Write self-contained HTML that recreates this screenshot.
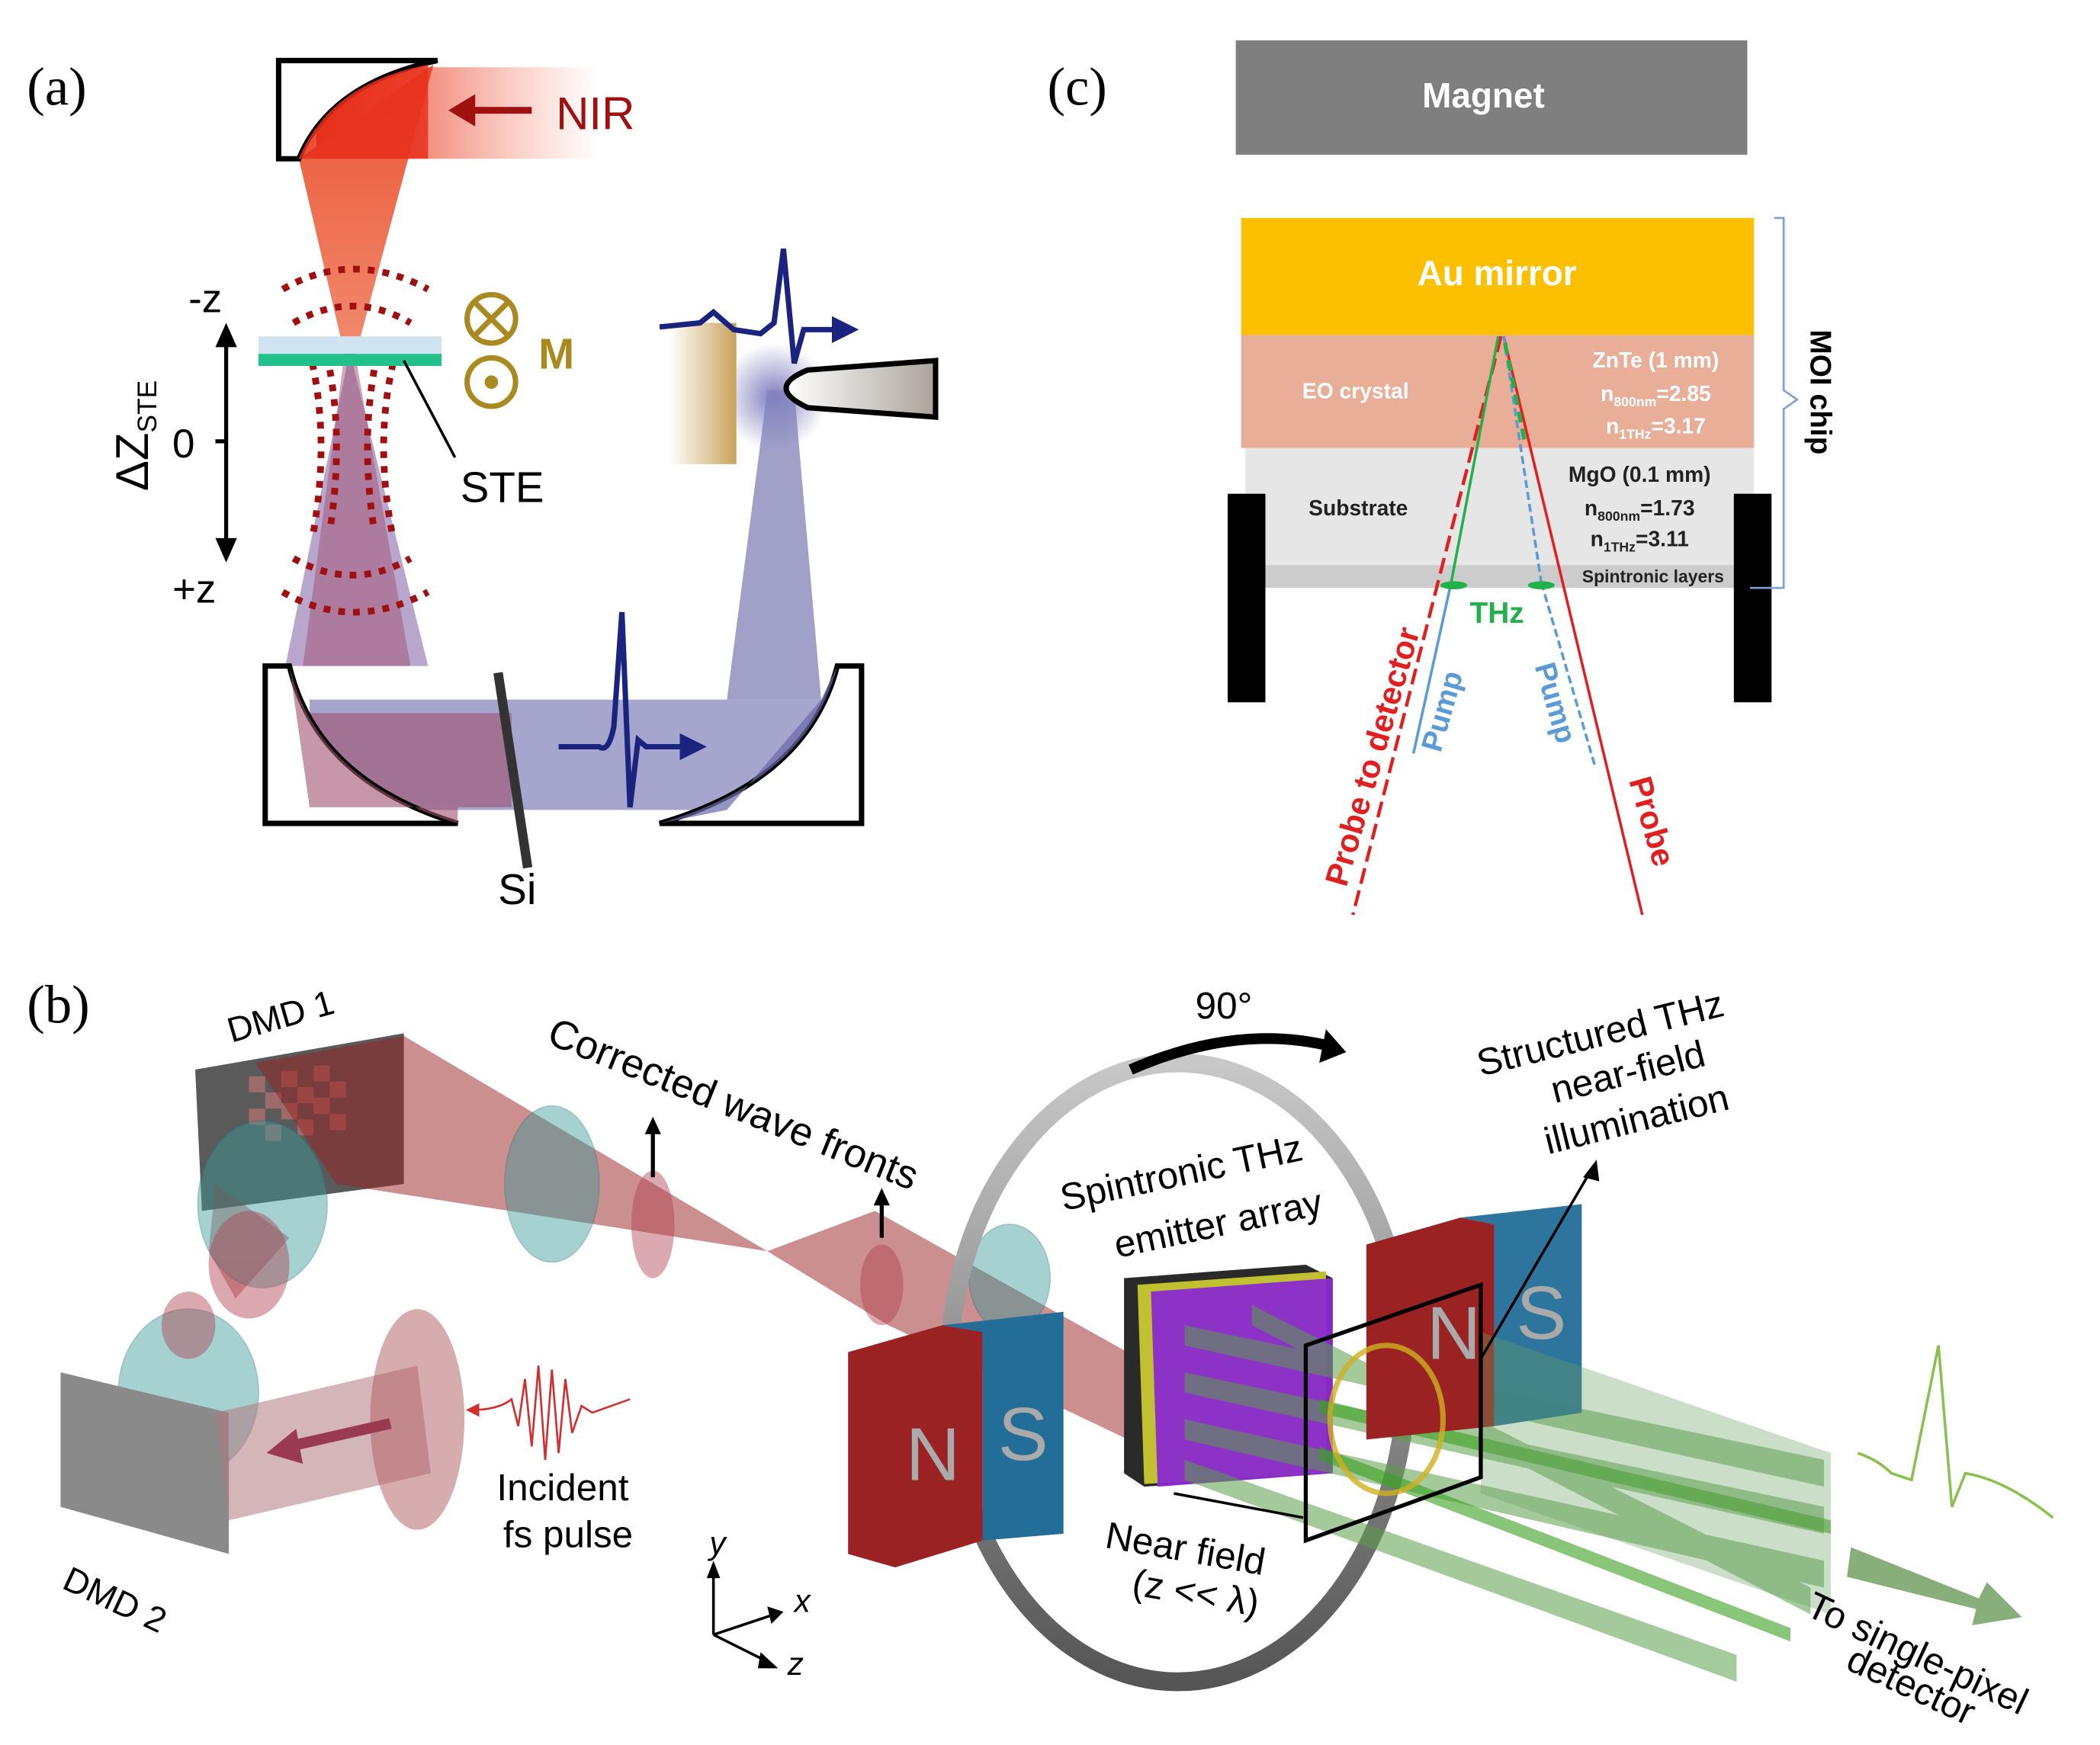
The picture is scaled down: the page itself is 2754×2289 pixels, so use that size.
<!DOCTYPE html>
<html><head><meta charset="utf-8"><style>
html,body{margin:0;padding:0;background:#fff}
svg{display:block}
text{font-family:"Liberation Sans",sans-serif}
.ser{font-family:"Liberation Serif",serif}
</style></head><body>
<svg width="2754" height="2289" viewBox="0 0 1560 1297" preserveAspectRatio="none" xmlns="http://www.w3.org/2000/svg">
<defs>
<linearGradient id="nir" x1="0" x2="1" y1="0" y2="0"><stop offset="0" stop-color="#e8301c"/><stop offset="1" stop-color="#f07050" stop-opacity="0"/></linearGradient>
<linearGradient id="cone" x1="0" x2="0" y1="0" y2="1"><stop offset="0" stop-color="#e8401c"/><stop offset="1" stop-color="#f08060"/></linearGradient>
<linearGradient id="det" x1="0" x2="1"><stop offset="0" stop-color="#fff"/><stop offset="1" stop-color="#aaa39a"/></linearGradient>
<linearGradient id="gold" x1="0" x2="1"><stop offset="0" stop-color="#fff"/><stop offset="1" stop-color="#c9a35c"/></linearGradient>
<radialGradient id="glow"><stop offset="0" stop-color="#8080c0"/><stop offset="1" stop-color="#8080c0" stop-opacity="0"/></radialGradient>
<linearGradient id="ring" x1="0" x2="0" y1="0" y2="1"><stop offset="0" stop-color="#c8c8c8"/><stop offset="1" stop-color="#555"/></linearGradient>
</defs>

<!-- ===== Panel (a) ===== -->
<text x="20" y="78" class="ser" font-size="40">(a)</text>
<rect x="235" y="50" width="210" height="68" fill="url(#nir)"/>
<polygon points="222,118 322,48 262,272 258,272" fill="url(#cone)" opacity="0.9"/>
<path d="M325,45 L207,45 L207,118 L222,118 Q245,62 325,45 Z" fill="#fff" stroke="#000" stroke-width="4"/>
<path d="M222,118 Q245,62 318,48 L318,118 Z" fill="#e8301c" opacity="0.85"/>
<line x1="350" y1="82" x2="395" y2="82" stroke="#a01010" stroke-width="5"/>
<polygon points="353,70 333,82 353,94" fill="#a01010"/>
<text x="413" y="96" font-size="34" fill="#a01010">NIR</text>
<!-- lower beam -->
<polygon points="258,270 262,270 318,495 212,495" fill="#a890c0" opacity="0.8"/>
<polygon points="255,270 265,270 305,495 225,495" fill="#a05070" opacity="0.5"/>
<rect x="230" y="520" width="380" height="82" fill="#8f8fc0" opacity="0.8"/>
<rect x="230" y="530" width="150" height="70" fill="#a05070" opacity="0.6"/>
<polygon points="540,520 610,520 590,290 570,290" fill="#8f8fc0" opacity="0.85"/>
<circle cx="575" cy="295" r="40" fill="url(#glow)"/>
<!-- red dotted arcs -->
<g fill="none" stroke="#a01010" stroke-width="5" stroke-dasharray="5,6">
<path d="M210,215 Q262,185 318,215"/><path d="M218,240 Q262,215 305,240"/>
<path d="M232,270 Q245,330 232,400 M292,270 Q278,330 292,400"/>
<path d="M245,275 Q255,330 245,395 M278,275 Q268,330 278,395"/>
<path d="M210,440 Q262,470 318,440"/><path d="M218,415 Q262,440 305,415"/>
</g>
<rect x="192" y="250" width="136" height="13" fill="#cfe4f0"/>
<rect x="192" y="263" width="136" height="9" fill="#22c08a"/>
<line x1="168" y1="255" x2="168" y2="405" stroke="#000" stroke-width="3"/>
<polygon points="160,258 176,258 168,240" fill="#000"/><polygon points="160,400 176,400 168,418" fill="#000"/>
<line x1="160" y1="328" x2="168" y2="328" stroke="#000" stroke-width="3"/>
<text x="140" y="232" font-size="30">-z</text>
<text x="128" y="448" font-size="30">+z</text>
<text x="128" y="340" font-size="30">0</text>
<text transform="translate(110,365) rotate(-90)" font-size="34">ΔZ<tspan font-size="20" dy="6">STE</tspan></text>
<circle cx="365" cy="237" r="18" fill="none" stroke="#a88a20" stroke-width="4"/>
<path d="M353,225 L377,249 M377,225 L353,249" stroke="#a88a20" stroke-width="4"/>
<circle cx="365" cy="284" r="18" fill="none" stroke="#a88a20" stroke-width="4"/><circle cx="365" cy="284" r="5" fill="#a88a20"/>
<text x="400" y="274" font-size="32" font-weight="bold" fill="#a88a20">M</text>
<line x1="300" y1="268" x2="338" y2="340" stroke="#000" stroke-width="2"/>
<text x="342" y="373" font-size="32">STE</text>
<!-- bottom mirrors -->
<path d="M197,495 L215,495 Q235,580 340,612 L197,612 Z" fill="#fff" stroke="#000" stroke-width="4"/>
<path d="M640,495 L622,495 Q600,580 490,612 L640,612 Z" fill="#fff" stroke="#000" stroke-width="4"/>
<path d="M215,495 Q235,580 340,612 L340,600 L230,600 Z" fill="#a05070" opacity="0.6"/>
<path d="M622,495 Q600,580 490,612 L540,602 L610,520 Z" fill="#6a6aa8" opacity="0.7"/>
<line x1="370" y1="500" x2="392" y2="645" stroke="#333" stroke-width="7"/>
<text x="370" y="672" font-size="32">Si</text>
<path d="M415,555 L445,555 Q452,560 456,540 L462,455 L468,600 L474,550 L480,555 L510,555" fill="none" stroke="#1a237e" stroke-width="4"/>
<polygon points="505,545 525,555 505,565" fill="#1a237e"/>
<!-- detector -->
<rect x="497" y="240" width="50" height="105" fill="url(#gold)"/>
<path d="M695,268 L600,275 Q568,288 600,303 L695,310 Z" fill="url(#det)" stroke="#000" stroke-width="4"/>
<path d="M490,243 L520,240 L530,232 L545,245 L565,248 L575,240 L582,185 L590,270 L597,245 L625,245" fill="none" stroke="#1a237e" stroke-width="4"/>
<polygon points="618,235 638,245 618,255" fill="#1a237e"/>

<!-- ===== Panel (c) ===== -->
<text x="778" y="78" class="ser" font-size="40">(c)</text>
<rect x="918" y="30" width="380" height="85" fill="#7f7f7f"/>
<text x="1102" y="80" font-size="26" font-weight="bold" fill="#fff" text-anchor="middle">Magnet</text>
<rect x="922" y="162" width="381" height="87" fill="#fcc000"/>
<text x="1112" y="212" font-size="26" font-weight="bold" fill="#fff" text-anchor="middle">Au mirror</text>
<rect x="922" y="249" width="381" height="84" fill="#e9ae98"/>
<rect x="925" y="333" width="378" height="87" fill="#e6e6e6"/>
<rect x="925" y="420" width="378" height="17" fill="#cccccc"/>
<rect x="912" y="367" width="28" height="155" fill="#000"/>
<rect x="1288" y="367" width="28" height="155" fill="#000"/>
<g font-weight="bold" font-size="16">
<text x="1007" y="296" fill="#fff" text-anchor="middle">EO crystal</text>
<text x="1230" y="273" fill="#fff" text-anchor="middle">ZnTe (1 mm)</text>
<text x="1230" y="298" fill="#fff" text-anchor="middle">n<tspan font-size="10" dy="4">800nm</tspan><tspan dy="-4">=2.85</tspan></text>
<text x="1230" y="322" fill="#fff" text-anchor="middle">n<tspan font-size="10" dy="4">1THz</tspan><tspan dy="-4">=3.17</tspan></text>
<text x="1009" y="383" fill="#222" text-anchor="middle">Substrate</text>
<text x="1218" y="358" fill="#222" text-anchor="middle">MgO (0.1 mm)</text>
<text x="1218" y="383" fill="#222" text-anchor="middle">n<tspan font-size="10" dy="4">800nm</tspan><tspan dy="-4">=1.73</tspan></text>
<text x="1218" y="406" fill="#222" text-anchor="middle">n<tspan font-size="10" dy="4">1THz</tspan><tspan dy="-4">=3.11</tspan></text>
<text x="1228" y="433" fill="#222" font-size="13" text-anchor="middle">Spintronic layers</text>
</g>
<path d="M1318,162 L1325,162 L1325,290 L1335,297 L1325,304 L1325,437 L1300,437" fill="none" stroke="#7fa0d0" stroke-width="1.5"/>
<text transform="translate(1345,245) rotate(90)" font-size="22" font-weight="bold">MOI chip</text>
<!-- beams -->
<line x1="1115" y1="250" x2="1005" y2="680" stroke="#e02020" stroke-width="2.5" stroke-dasharray="12,5"/>
<line x1="1113" y1="250" x2="1078" y2="433" stroke="#22b04a" stroke-width="2"/>
<line x1="1117" y1="250" x2="1220" y2="680" stroke="#e02020" stroke-width="2"/>
<line x1="1117" y1="250" x2="1145" y2="433" stroke="#5b9bd5" stroke-width="2" stroke-dasharray="6,3"/>
<line x1="1118" y1="255" x2="1133" y2="330" stroke="#22b04a" stroke-width="3" stroke-dasharray="8,5"/>
<line x1="1078" y1="433" x2="1050" y2="560" stroke="#5b9bd5" stroke-width="2"/>
<line x1="1145" y1="433" x2="1185" y2="570" stroke="#5b9bd5" stroke-width="2" stroke-dasharray="6,3"/>
<ellipse cx="1080" cy="435" rx="10" ry="3" fill="#22b04a"/><ellipse cx="1145" cy="435" rx="10" ry="3" fill="#22b04a"/>
<text x="1112" y="463" font-size="22" font-weight="bold" fill="#22b04a" text-anchor="middle">THz</text>
<text transform="translate(1000,660) rotate(-74)" font-size="24" font-weight="bold" fill="#e02020">Probe to detector</text>
<text transform="translate(1070,560) rotate(-74)" font-size="22" font-weight="bold" fill="#5b9bd5">Pump</text>
<text transform="translate(1140,495) rotate(74)" font-size="22" font-weight="bold" fill="#5b9bd5">Pump</text>
<text transform="translate(1210,580) rotate(74)" font-size="24" font-weight="bold" fill="#e02020">Probe</text>

<!-- ===== Panel (b) ===== -->
<text x="20" y="760" class="ser" font-size="40">(b)</text>
<text transform="translate(172,775) rotate(-16)" font-size="26">DMD 1</text>
<text transform="translate(45,1180) rotate(25)" font-size="26">DMD 2</text>
<polygon points="145,795 300,768 300,880 150,900" fill="#5a5a5a"/>
<g fill="#b07070" opacity="0.8">
<rect x="185" y="800" width="12" height="12"/><rect x="209" y="796" width="12" height="12"/><rect x="233" y="792" width="12" height="12"/>
<rect x="197" y="812" width="12" height="12"/><rect x="221" y="808" width="12" height="12"/><rect x="245" y="804" width="12" height="12"/>
<rect x="185" y="824" width="12" height="12"/><rect x="209" y="820" width="12" height="12"/><rect x="233" y="816" width="12" height="12"/>
<rect x="197" y="836" width="12" height="12"/><rect x="221" y="832" width="12" height="12"/><rect x="245" y="828" width="12" height="12"/>
</g>
<polygon points="190,790 300,770 570,930 250,880" fill="#9a2020" opacity="0.5"/>
<polygon points="570,930 650,900 900,1040 880,1090 660,985" fill="#9a2020" opacity="0.5"/>
<polygon points="160,880 215,920 175,965 155,930" fill="#9a2020" opacity="0.4"/>
<g fill="#3a9a9a" opacity="0.45" stroke="#2a7a7a" stroke-width="1">
<ellipse cx="195" cy="895" rx="48" ry="62"/><ellipse cx="410" cy="880" rx="35" ry="58"/>
<ellipse cx="140" cy="1035" rx="52" ry="62"/><ellipse cx="750" cy="950" rx="30" ry="40"/>
</g>
<g fill="#b04050" opacity="0.45"><ellipse cx="485" cy="910" rx="16" ry="40"/><ellipse cx="655" cy="955" rx="16" ry="30"/><ellipse cx="185" cy="940" rx="30" ry="40"/><ellipse cx="140" cy="985" rx="20" ry="25"/></g>
<polygon points="45,1020 170,1050 170,1155 45,1120" fill="#8a8a8a"/>
<polygon points="160,1050 310,1015 320,1095 170,1130" fill="#b07a80" opacity="0.55"/>
<ellipse cx="310" cy="1055" rx="35" ry="82" fill="#b05a60" opacity="0.5"/>
<line x1="290" y1="1058" x2="215" y2="1075" stroke="#9a3a50" stroke-width="8"/><polygon points="220,1062 198,1080 225,1088" fill="#9a3a50"/>
<path d="M350,1048 Q370,1048 380,1040 L385,1060 L390,1025 L395,1075 L400,1015 L405,1085 L410,1018 L415,1080 L420,1025 L425,1065 L432,1045 L440,1050 L468,1040" fill="none" stroke="#d03030" stroke-width="1.5"/>
<polygon points="346,1048 356,1043 356,1053" fill="#d03030"/>
<text x="418" y="1115" font-size="28" text-anchor="middle">Incident</text>
<text x="422" y="1150" font-size="28" text-anchor="middle">fs pulse</text>
<text transform="translate(405,775) rotate(22)" font-size="30">Corrected wave fronts</text>
<line x1="485" y1="875" x2="485" y2="840" stroke="#000" stroke-width="3"/><polygon points="479,843 491,843 485,830" fill="#000"/>
<line x1="655" y1="920" x2="655" y2="893" stroke="#000" stroke-width="3"/><polygon points="649,896 661,896 655,883" fill="#000"/>
<ellipse cx="875" cy="1020" rx="170" ry="230" fill="none" stroke="url(#ring)" stroke-width="14"/>
<text x="888" y="757" font-size="28">90°</text>
<path d="M840,795 Q920,760 990,778" fill="none" stroke="#000" stroke-width="8"/>
<polygon points="985,765 1000,782 980,790" fill="#000"/>
<polygon points="835,950 970,940 990,950 990,1095 850,1105 835,1095" fill="#2a2a2a"/>
<polygon points="845,955 985,945 985,1095 850,1103" fill="#c0c030"/>
<polygon points="855,960 990,950 990,1095 860,1105" fill="#8a2ad0" opacity="0.95"/>
<g fill="#5aa04a" opacity="0.55">
<polygon points="880,985 1355,1085 1355,1105 880,1000"/>
<polygon points="880,1020 1355,1120 1355,1140 880,1035"/>
<polygon points="880,1055 1355,1160 1355,1180 880,1070"/>
<polygon points="880,1085 1290,1230 1290,1250 880,1100"/>
<polygon points="930,970 1345,1180 1345,1200 930,985"/>
</g>
<g fill="#3aa020" opacity="0.6">
<polygon points="980,1040 1360,1130 1360,1140 980,1050"/>
<polygon points="980,1075 1330,1210 1330,1220 980,1085"/>
</g>
<polygon points="630,1005 700,985 730,990 730,1145 665,1165 630,1155" fill="#9a2222"/>
<polygon points="700,985 790,975 790,1140 730,1145 730,990" fill="#236e99"/>
<text x="693" y="1100" font-size="56" fill="#aaa" text-anchor="middle">N</text>
<text x="760" y="1085" font-size="56" fill="#aaa" text-anchor="middle">S</text>
<polygon points="1015,925 1085,905 1110,910 1110,1060 1015,1070" fill="#9a2222"/>
<polygon points="1085,905 1175,895 1175,1050 1110,1060 1110,910" fill="#236e99" opacity="0.95"/>
<text x="1080" y="1010" font-size="56" fill="#aaa" text-anchor="middle">N</text>
<text x="1145" y="995" font-size="56" fill="#aaa" text-anchor="middle">S</text>
<polygon points="1100,990 1360,1080 1360,1200 1100,1110" fill="#6aa060" opacity="0.35"/>
<polygon points="970,1000 1100,955 1100,1098 970,1145" fill="none" stroke="#000" stroke-width="3"/>
<ellipse cx="1030" cy="1055" rx="42" ry="55" fill="none" stroke="#d0b020" stroke-width="4" opacity="0.8"/>
<line x1="1100" y1="1010" x2="1183" y2="868" stroke="#000" stroke-width="2"/><polygon points="1176,875 1188,878 1186,862" fill="#000"/>
<path d="M872,1110 L968,1128" stroke="#000" stroke-width="2"/>
<text transform="translate(790,900) rotate(-12)" font-size="28">Spintronic THz</text>
<text transform="translate(830,935) rotate(-12)" font-size="28">emitter array</text>
<text transform="translate(1100,800) rotate(-14)" font-size="28">Structured THz</text>
<text transform="translate(1155,820) rotate(-14)" font-size="28">near-field</text>
<text transform="translate(1150,858) rotate(-14)" font-size="28">illumination</text>
<text transform="translate(820,1150) rotate(10)" font-size="28">Near field</text>
<text transform="translate(840,1185) rotate(10)" font-size="28">(z &lt;&lt; λ)</text>
<line x1="530" y1="1215" x2="530" y2="1170" stroke="#000" stroke-width="2"/><polygon points="525,1173 535,1173 530,1160" fill="#000"/>
<line x1="530" y1="1215" x2="575" y2="1200" stroke="#000" stroke-width="2"/><polygon points="570,1194 582,1198 573,1207" fill="#000"/>
<line x1="530" y1="1215" x2="570" y2="1235" stroke="#000" stroke-width="2"/><polygon points="565,1228 578,1240 563,1240" fill="#000"/>
<text x="527" y="1155" font-size="24" font-style="italic">y</text>
<text x="590" y="1198" font-size="24" font-style="italic">x</text>
<text x="585" y="1245" font-size="24" font-style="italic">z</text>
<path d="M1380,1080 Q1395,1085 1405,1095 L1420,1100 L1440,1000 L1450,1120 L1460,1095 Q1490,1100 1525,1128" fill="none" stroke="#8ac050" stroke-width="2"/>
<polygon points="1375,1150 1470,1188 1476,1176 1502,1202 1465,1208 1468,1196 1372,1172" fill="#6a9a5a" opacity="0.8"/>
<text transform="translate(1340,1200) rotate(25)" font-size="28">To single-pixel</text>
<text transform="translate(1370,1240) rotate(25)" font-size="28">detector</text>
</svg>
</body></html>
